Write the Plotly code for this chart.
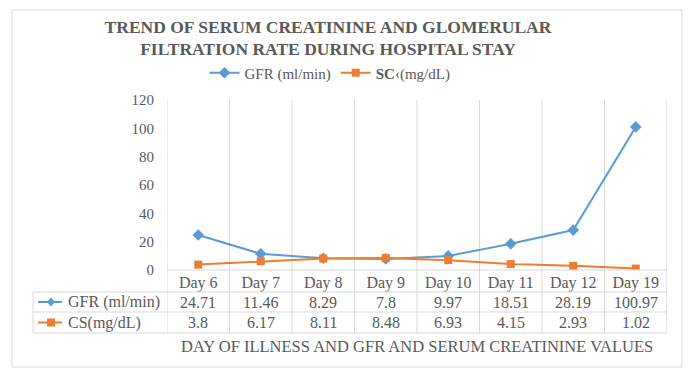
import plotly.graph_objects as go

days = ["Day 6", "Day 7", "Day 8", "Day 9", "Day 10", "Day 11", "Day 12", "Day 19"]
gfr = [24.71, 11.46, 8.29, 7.8, 9.97, 18.51, 28.19, 100.97]
sc = [3.8, 6.17, 8.11, 8.48, 6.93, 4.15, 2.93, 1.02]
gfr_label_legend = "GFR (ml/min)"
sc_label_legend = "<b>SC</b>\u2039(mg/dL)"
gfr_label_table = "GFR (ml/min)"
sc_label_table = "CS(mg/dL)"
y_ticks = [0, 20, 40, 60, 80, 100, 120]

# the browser's default body margin (8px) offsets the figure; size it to fill the window
OFF = 8
W, H = 696 - OFF, 377 - OFF
L, R, T, B = 167, 667, 100, 270  # plot area in window pixels
BLUE = "#5B9BD5"
ORANGE = "#ED7D31"
TXT = "#595959"
GRID = "#D9D9D9"
FONT = "Liberation Serif"


def px(xp):
    return (xp - L) / (R - L)


def py(yp):
    return (B - yp) / (B - T)


fig = go.Figure()
fig.add_trace(go.Scatter(x=days, y=gfr, name=gfr_label_legend, mode="lines+markers",
                         line=dict(color=BLUE, width=2),
                         marker=dict(symbol="diamond", size=9, color=BLUE)))
fig.add_trace(go.Scatter(x=days, y=sc, name=sc_label_legend, mode="lines+markers",
                         line=dict(color=ORANGE, width=2),
                         marker=dict(symbol="square", size=8, color=ORANGE)))

shapes = []
# outer border
shapes.append(dict(type="rect", xref="paper", yref="paper", x0=px(12), x1=px(682),
                   y0=py(367), y1=py(10), line=dict(color=GRID, width=1), layer="below"))
# row boundaries of data table
row_top, row1, row2, row3 = 270, 292, 312, 333
shapes.append(dict(type="line", xref="paper", yref="paper", x0=0, x1=1,
                   y0=py(row_top), y1=py(row_top), line=dict(color=GRID, width=1)))
for yy in (row1, row2, row3):
    shapes.append(dict(type="line", xref="paper", yref="paper", x0=px(33), x1=1,
                       y0=py(yy), y1=py(yy), line=dict(color=GRID, width=1)))
shapes.append(dict(type="line", xref="paper", yref="paper", x0=px(33), x1=px(33),
                   y0=py(row3), y1=py(row1), line=dict(color=GRID, width=1)))
# category boundaries (vertical lines) through plot and table
for i in range(len(days) + 1):
    shapes.append(dict(type="line", xref="x", yref="paper", x0=i - 0.5, x1=i - 0.5,
                       y0=py(row3), y1=1, line=dict(color=GRID, width=1), layer="below"))

# legend keys in table label column
for yy, col, sym in (((row1 + row2) / 2, BLUE, "diamond"), ((row2 + row3) / 2, ORANGE, "square")):
    shapes.append(dict(type="line", xref="paper", yref="paper", x0=px(38), x1=px(62),
                       y0=py(yy), y1=py(yy), line=dict(color=col, width=2)))
    cx = 51
    if sym == "diamond":
        pts = [(cx, yy - 4.5), (cx + 4, yy), (cx, yy + 4.5), (cx - 4, yy)]
    else:
        pts = [(cx - 4, yy - 4), (cx + 4, yy - 4), (cx + 4, yy + 4), (cx - 4, yy + 4)]
    path = "M " + " L ".join(f"{px(a):.5f},{py(b):.5f}" for a, b in pts) + " Z"
    shapes.append(dict(type="path", xref="paper", yref="paper", path=path,
                       fillcolor=col, line=dict(color=col, width=0)))

annotations = []
fnt = dict(family=FONT, size=16, color=TXT)
for i, d in enumerate(days):
    annotations.append(dict(x=i, y=py((row1 + row2) / 2), xref="x", yref="paper",
                            text=str(gfr[i]), showarrow=False, font=fnt,
                            xanchor="center", yanchor="middle"))
    annotations.append(dict(x=i, y=py((row2 + row3) / 2), xref="x", yref="paper",
                            text=str(sc[i]), showarrow=False, font=fnt,
                            xanchor="center", yanchor="middle"))
annotations.append(dict(x=px(66), y=py((row1 + row2) / 2), xref="paper", yref="paper",
                        text=gfr_label_table, showarrow=False, xanchor="left",
                        yanchor="middle", font=fnt))
annotations.append(dict(x=px(66), y=py((row2 + row3) / 2), xref="paper", yref="paper",
                        text=sc_label_table, showarrow=False, xanchor="left",
                        yanchor="middle", font=fnt))
annotations.append(dict(x=0.5, y=py(346), xref="paper", yref="paper",
                        text="DAY OF ILLNESS AND GFR AND SERUM CREATININE VALUES",
                        showarrow=False, xanchor="center", yanchor="middle",
                        font=dict(family=FONT, size=16.5, color=TXT)))

fig.update_layout(
    width=W, height=H,
    margin=dict(l=L - OFF, r=696 - R, t=T - OFF, b=377 - B, autoexpand=False),
    paper_bgcolor="white", plot_bgcolor="white",
    font=dict(family=FONT, size=15, color=TXT),
    title=dict(text="TREND OF SERUM CREATININE AND GLOMERULAR<br>FILTRATION RATE DURING HOSPITAL STAY",
               x=(328 - OFF) / W, xanchor="center", y=1 - (32.5 - OFF) / H, yanchor="middle",
               yref="container",
               font=dict(family=FONT, size=17.5, color=TXT, weight="bold")),
    legend=dict(orientation="h", x=px(330), xanchor="center", y=py(73), yanchor="middle",
                font=dict(family=FONT, size=15, color=TXT), itemwidth=30,
                bgcolor="rgba(0,0,0,0)"),
    shapes=shapes,
    annotations=annotations,
    xaxis=dict(type="category", range=[-0.5, len(days) - 0.5], showgrid=False,
               showline=False, zeroline=False, ticks="", tickfont=fnt,
               ticklabelstandoff=1, fixedrange=True),
    yaxis=dict(range=[0, 120], tickvals=y_ticks, showgrid=False, zeroline=False,
               showline=False, ticks="", tickfont=dict(family=FONT, size=15, color=TXT),
               ticklabelstandoff=12, fixedrange=True),
)

fig.write_html("out.html")
